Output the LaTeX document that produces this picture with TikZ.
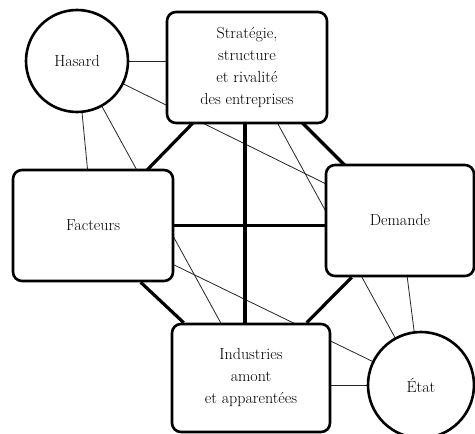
\documentclass[tikz,border=0pt]{standalone}
\usetikzlibrary{backgrounds}
\begin{document}
\begin{tikzpicture}[x=1pt,y=-1pt,
  every node/.style={font=\fontsize{16}{22}\selectfont, align=center},
  boxnode/.style={draw, line width=2.6pt, rounded corners=9pt, fill=white, inner sep=0pt},
  circnode/.style={draw, circle, line width=2.6pt, fill=white, inner sep=0pt},
  thinlink/.style={line width=0.8pt, draw=black!85},
  thicklink/.style={line width=3.2pt}]
\useasboundingbox (0,0) rectangle (475,434);
\node[circnode, minimum size=102pt] (H) at (77,61) {Hasard};
\node[boxnode, minimum width=160pt, minimum height=111pt] (S) at (247,67.5) {Stratégie,\\structure\\et rivalité\\des entreprises};
\node[boxnode, minimum width=160pt, minimum height=111pt] (F) at (93,225.5) {Facteurs};
\node[boxnode, minimum width=148pt, minimum height=111pt] (D) at (400,220.5) {Demande};
\node[boxnode, minimum width=158pt, minimum height=108pt] (I) at (251,378) {Industries\\amont\\et apparentées};
\node[circnode, minimum size=106pt] (E) at (421,385) {État};
\begin{scope}[on background layer]
  \draw[thinlink] (H.center) -- (H.center -| S.center);
  \draw[thinlink] (H.center) -- (D.center);
  \draw[thinlink] (H.center) -- (F.center);
  \draw[thinlink] (H.center) -- (I.center);
  \draw[thinlink] (S.center) -- (E.center);
  \draw[thinlink] (F.center) -- (E.center);
  \draw[thinlink] (D.center) -- (E.center);
  \draw[thinlink] (E.center) -- (E.center -| I.center);
  \draw[thicklink] (S.center) -- (F.center);
  \draw[thicklink] (S.center) -- (D.center);
  \draw[thicklink] ([xshift=129pt]F.south west) -- ([xshift=13pt]I.north west);
  \draw[thicklink] ([xshift=27pt]D.south west) -- ([xshift=136pt]I.north west);
  \draw[thicklink] ([xshift=-2pt]S.south) -- ([xshift=-2pt]S.south |- I.north);
  \draw[thicklink] (F.east) -- (F.east -| D.west);
\end{scope}
\end{tikzpicture}
\end{document}
